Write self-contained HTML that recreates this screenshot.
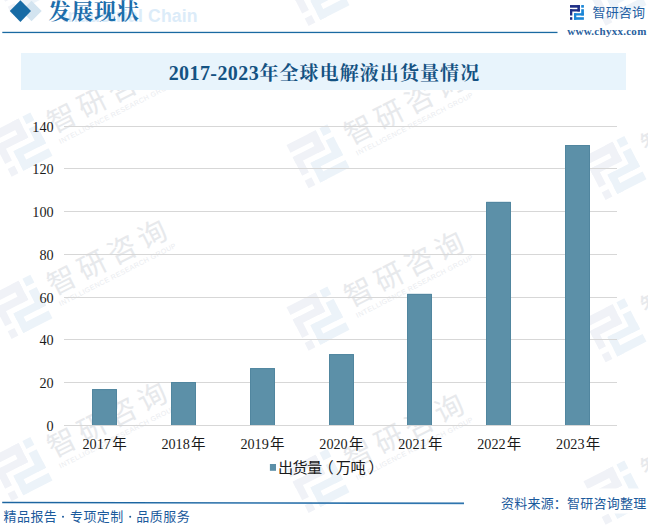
<!DOCTYPE html>
<html lang="zh-CN">
<head>
<meta charset="utf-8">
<title>2017-2023年全球电解液出货量情况</title>
<style>
html,body{margin:0;padding:0;background:#fff;font-family:"Liberation Sans",sans-serif;}
body{width:648px;height:525px;overflow:hidden;position:relative;}
svg{display:block;position:absolute;left:0;top:0;}
.sr{position:absolute;left:0;top:0;width:648px;height:525px;overflow:hidden;opacity:0;color:transparent;pointer-events:none;}
.sr *{position:absolute;margin:0;white-space:nowrap;font:14px/1 "Liberation Sans",sans-serif;}
.wmc{font-family:"Liberation Sans","Noto Sans CJK SC",sans-serif;font-size:28.6px;fill:#e7e9ec;}
.wml{font-family:"Liberation Sans",sans-serif;font-size:7px;fill:#eaecef;}
.ax{font-family:"Liberation Serif","Noto Sans CJK SC",serif;font-size:14.2px;fill:#1a1a1a;}
.cj{font-family:"Liberation Sans","Noto Sans CJK SC",sans-serif;}
</style>
</head>
<body>
<svg width="648" height="525" viewBox="0 0 648 525" role="img" aria-label="发展现状 2017-2023年全球电解液出货量情况 出货量（万吨） 资料来源：智研咨询整理 精品报告·专项定制·品质服务 www.chyxx.com">
<rect width="648" height="525" fill="#ffffff"/>
<g transform="translate(-10.5 -29.0) rotate(-27)"><g transform="scale(3.3)"><rect x="0.00" y="0.00" width="9.90" height="2.65" fill="#f0f2f7"/><rect x="7.40" y="0.00" width="2.50" height="6.45" fill="#f0f2f7"/><rect x="0.00" y="4.15" width="9.90" height="2.30" fill="#f0f2f7"/><rect x="0.00" y="4.15" width="2.30" height="6.30" fill="#f0f2f7"/><rect x="0.00" y="12.15" width="2.30" height="2.60" fill="#f0f2f7"/><rect x="11.20" y="0.00" width="2.70" height="2.65" fill="#ecf3f9"/><rect x="11.20" y="4.15" width="2.70" height="6.30" fill="#ecf3f9"/><rect x="4.00" y="8.15" width="9.90" height="2.30" fill="#ecf3f9"/><rect x="4.00" y="8.15" width="2.30" height="6.60" fill="#ecf3f9"/><rect x="4.00" y="12.15" width="9.90" height="2.60" fill="#ecf3f9"/></g><text class="wmc" x="57.15 90.85 124.55 158.25" y="29.6">智研咨询</text><text class="wml" x="58.5" y="41.8" textLength="130" lengthAdjust="spacing">INTELLIGENCE RESEARCH GROUP</text></g>
<g transform="translate(-10.5 133.3) rotate(-27)"><g transform="scale(3.3)"><rect x="0.00" y="0.00" width="9.90" height="2.65" fill="#f0f2f7"/><rect x="7.40" y="0.00" width="2.50" height="6.45" fill="#f0f2f7"/><rect x="0.00" y="4.15" width="9.90" height="2.30" fill="#f0f2f7"/><rect x="0.00" y="4.15" width="2.30" height="6.30" fill="#f0f2f7"/><rect x="0.00" y="12.15" width="2.30" height="2.60" fill="#f0f2f7"/><rect x="11.20" y="0.00" width="2.70" height="2.65" fill="#ecf3f9"/><rect x="11.20" y="4.15" width="2.70" height="6.30" fill="#ecf3f9"/><rect x="4.00" y="8.15" width="9.90" height="2.30" fill="#ecf3f9"/><rect x="4.00" y="8.15" width="2.30" height="6.60" fill="#ecf3f9"/><rect x="4.00" y="12.15" width="9.90" height="2.60" fill="#ecf3f9"/></g><text class="wmc" x="57.15 90.85 124.55 158.25" y="29.6">智研咨询</text><text class="wml" x="58.5" y="41.8" textLength="130" lengthAdjust="spacing">INTELLIGENCE RESEARCH GROUP</text></g>
<g transform="translate(-10.5 295.6) rotate(-27)"><g transform="scale(3.3)"><rect x="0.00" y="0.00" width="9.90" height="2.65" fill="#f0f2f7"/><rect x="7.40" y="0.00" width="2.50" height="6.45" fill="#f0f2f7"/><rect x="0.00" y="4.15" width="9.90" height="2.30" fill="#f0f2f7"/><rect x="0.00" y="4.15" width="2.30" height="6.30" fill="#f0f2f7"/><rect x="0.00" y="12.15" width="2.30" height="2.60" fill="#f0f2f7"/><rect x="11.20" y="0.00" width="2.70" height="2.65" fill="#ecf3f9"/><rect x="11.20" y="4.15" width="2.70" height="6.30" fill="#ecf3f9"/><rect x="4.00" y="8.15" width="9.90" height="2.30" fill="#ecf3f9"/><rect x="4.00" y="8.15" width="2.30" height="6.60" fill="#ecf3f9"/><rect x="4.00" y="12.15" width="9.90" height="2.60" fill="#ecf3f9"/></g><text class="wmc" x="57.15 90.85 124.55 158.25" y="29.6">智研咨询</text><text class="wml" x="58.5" y="41.8" textLength="130" lengthAdjust="spacing">INTELLIGENCE RESEARCH GROUP</text></g>
<g transform="translate(-10.5 457.9) rotate(-27)"><g transform="scale(3.3)"><rect x="0.00" y="0.00" width="9.90" height="2.65" fill="#f0f2f7"/><rect x="7.40" y="0.00" width="2.50" height="6.45" fill="#f0f2f7"/><rect x="0.00" y="4.15" width="9.90" height="2.30" fill="#f0f2f7"/><rect x="0.00" y="4.15" width="2.30" height="6.30" fill="#f0f2f7"/><rect x="0.00" y="12.15" width="2.30" height="2.60" fill="#f0f2f7"/><rect x="11.20" y="0.00" width="2.70" height="2.65" fill="#ecf3f9"/><rect x="11.20" y="4.15" width="2.70" height="6.30" fill="#ecf3f9"/><rect x="4.00" y="8.15" width="9.90" height="2.30" fill="#ecf3f9"/><rect x="4.00" y="8.15" width="2.30" height="6.60" fill="#ecf3f9"/><rect x="4.00" y="12.15" width="9.90" height="2.60" fill="#ecf3f9"/></g><text class="wmc" x="57.15 90.85 124.55 158.25" y="29.6">智研咨询</text><text class="wml" x="58.5" y="41.8" textLength="130" lengthAdjust="spacing">INTELLIGENCE RESEARCH GROUP</text></g>
<g transform="translate(-10.5 620.2) rotate(-27)"><g transform="scale(3.3)"><rect x="0.00" y="0.00" width="9.90" height="2.65" fill="#f0f2f7"/><rect x="7.40" y="0.00" width="2.50" height="6.45" fill="#f0f2f7"/><rect x="0.00" y="4.15" width="9.90" height="2.30" fill="#f0f2f7"/><rect x="0.00" y="4.15" width="2.30" height="6.30" fill="#f0f2f7"/><rect x="0.00" y="12.15" width="2.30" height="2.60" fill="#f0f2f7"/><rect x="11.20" y="0.00" width="2.70" height="2.65" fill="#ecf3f9"/><rect x="11.20" y="4.15" width="2.70" height="6.30" fill="#ecf3f9"/><rect x="4.00" y="8.15" width="9.90" height="2.30" fill="#ecf3f9"/><rect x="4.00" y="8.15" width="2.30" height="6.60" fill="#ecf3f9"/><rect x="4.00" y="12.15" width="9.90" height="2.60" fill="#ecf3f9"/></g><text class="wmc" x="57.15 90.85 124.55 158.25" y="29.6">智研咨询</text><text class="wml" x="58.5" y="41.8" textLength="130" lengthAdjust="spacing">INTELLIGENCE RESEARCH GROUP</text></g>
<g transform="translate(286.5 -17.3) rotate(-27)"><g transform="scale(3.3)"><rect x="0.00" y="0.00" width="9.90" height="2.65" fill="#f0f2f7"/><rect x="7.40" y="0.00" width="2.50" height="6.45" fill="#f0f2f7"/><rect x="0.00" y="4.15" width="9.90" height="2.30" fill="#f0f2f7"/><rect x="0.00" y="4.15" width="2.30" height="6.30" fill="#f0f2f7"/><rect x="0.00" y="12.15" width="2.30" height="2.60" fill="#f0f2f7"/><rect x="11.20" y="0.00" width="2.70" height="2.65" fill="#ecf3f9"/><rect x="11.20" y="4.15" width="2.70" height="6.30" fill="#ecf3f9"/><rect x="4.00" y="8.15" width="9.90" height="2.30" fill="#ecf3f9"/><rect x="4.00" y="8.15" width="2.30" height="6.60" fill="#ecf3f9"/><rect x="4.00" y="12.15" width="9.90" height="2.60" fill="#ecf3f9"/></g><text class="wmc" x="57.15 90.85 124.55 158.25" y="29.6">智研咨询</text><text class="wml" x="58.5" y="41.8" textLength="130" lengthAdjust="spacing">INTELLIGENCE RESEARCH GROUP</text></g>
<g transform="translate(286.5 145.0) rotate(-27)"><g transform="scale(3.3)"><rect x="0.00" y="0.00" width="9.90" height="2.65" fill="#f0f2f7"/><rect x="7.40" y="0.00" width="2.50" height="6.45" fill="#f0f2f7"/><rect x="0.00" y="4.15" width="9.90" height="2.30" fill="#f0f2f7"/><rect x="0.00" y="4.15" width="2.30" height="6.30" fill="#f0f2f7"/><rect x="0.00" y="12.15" width="2.30" height="2.60" fill="#f0f2f7"/><rect x="11.20" y="0.00" width="2.70" height="2.65" fill="#ecf3f9"/><rect x="11.20" y="4.15" width="2.70" height="6.30" fill="#ecf3f9"/><rect x="4.00" y="8.15" width="9.90" height="2.30" fill="#ecf3f9"/><rect x="4.00" y="8.15" width="2.30" height="6.60" fill="#ecf3f9"/><rect x="4.00" y="12.15" width="9.90" height="2.60" fill="#ecf3f9"/></g><text class="wmc" x="57.15 90.85 124.55 158.25" y="29.6">智研咨询</text><text class="wml" x="58.5" y="41.8" textLength="130" lengthAdjust="spacing">INTELLIGENCE RESEARCH GROUP</text></g>
<g transform="translate(286.5 307.3) rotate(-27)"><g transform="scale(3.3)"><rect x="0.00" y="0.00" width="9.90" height="2.65" fill="#f0f2f7"/><rect x="7.40" y="0.00" width="2.50" height="6.45" fill="#f0f2f7"/><rect x="0.00" y="4.15" width="9.90" height="2.30" fill="#f0f2f7"/><rect x="0.00" y="4.15" width="2.30" height="6.30" fill="#f0f2f7"/><rect x="0.00" y="12.15" width="2.30" height="2.60" fill="#f0f2f7"/><rect x="11.20" y="0.00" width="2.70" height="2.65" fill="#ecf3f9"/><rect x="11.20" y="4.15" width="2.70" height="6.30" fill="#ecf3f9"/><rect x="4.00" y="8.15" width="9.90" height="2.30" fill="#ecf3f9"/><rect x="4.00" y="8.15" width="2.30" height="6.60" fill="#ecf3f9"/><rect x="4.00" y="12.15" width="9.90" height="2.60" fill="#ecf3f9"/></g><text class="wmc" x="57.15 90.85 124.55 158.25" y="29.6">智研咨询</text><text class="wml" x="58.5" y="41.8" textLength="130" lengthAdjust="spacing">INTELLIGENCE RESEARCH GROUP</text></g>
<g transform="translate(286.5 469.6) rotate(-27)"><g transform="scale(3.3)"><rect x="0.00" y="0.00" width="9.90" height="2.65" fill="#f0f2f7"/><rect x="7.40" y="0.00" width="2.50" height="6.45" fill="#f0f2f7"/><rect x="0.00" y="4.15" width="9.90" height="2.30" fill="#f0f2f7"/><rect x="0.00" y="4.15" width="2.30" height="6.30" fill="#f0f2f7"/><rect x="0.00" y="12.15" width="2.30" height="2.60" fill="#f0f2f7"/><rect x="11.20" y="0.00" width="2.70" height="2.65" fill="#ecf3f9"/><rect x="11.20" y="4.15" width="2.70" height="6.30" fill="#ecf3f9"/><rect x="4.00" y="8.15" width="9.90" height="2.30" fill="#ecf3f9"/><rect x="4.00" y="8.15" width="2.30" height="6.60" fill="#ecf3f9"/><rect x="4.00" y="12.15" width="9.90" height="2.60" fill="#ecf3f9"/></g><text class="wmc" x="57.15 90.85 124.55 158.25" y="29.6">智研咨询</text><text class="wml" x="58.5" y="41.8" textLength="130" lengthAdjust="spacing">INTELLIGENCE RESEARCH GROUP</text></g>
<g transform="translate(286.5 631.9) rotate(-27)"><g transform="scale(3.3)"><rect x="0.00" y="0.00" width="9.90" height="2.65" fill="#f0f2f7"/><rect x="7.40" y="0.00" width="2.50" height="6.45" fill="#f0f2f7"/><rect x="0.00" y="4.15" width="9.90" height="2.30" fill="#f0f2f7"/><rect x="0.00" y="4.15" width="2.30" height="6.30" fill="#f0f2f7"/><rect x="0.00" y="12.15" width="2.30" height="2.60" fill="#f0f2f7"/><rect x="11.20" y="0.00" width="2.70" height="2.65" fill="#ecf3f9"/><rect x="11.20" y="4.15" width="2.70" height="6.30" fill="#ecf3f9"/><rect x="4.00" y="8.15" width="9.90" height="2.30" fill="#ecf3f9"/><rect x="4.00" y="8.15" width="2.30" height="6.60" fill="#ecf3f9"/><rect x="4.00" y="12.15" width="9.90" height="2.60" fill="#ecf3f9"/></g><text class="wmc" x="57.15 90.85 124.55 158.25" y="29.6">智研咨询</text><text class="wml" x="58.5" y="41.8" textLength="130" lengthAdjust="spacing">INTELLIGENCE RESEARCH GROUP</text></g>
<g transform="translate(583.5 -17.6) rotate(-27)"><g transform="scale(3.3)"><rect x="0.00" y="0.00" width="9.90" height="2.65" fill="#f0f2f7"/><rect x="7.40" y="0.00" width="2.50" height="6.45" fill="#f0f2f7"/><rect x="0.00" y="4.15" width="9.90" height="2.30" fill="#f0f2f7"/><rect x="0.00" y="4.15" width="2.30" height="6.30" fill="#f0f2f7"/><rect x="0.00" y="12.15" width="2.30" height="2.60" fill="#f0f2f7"/><rect x="11.20" y="0.00" width="2.70" height="2.65" fill="#ecf3f9"/><rect x="11.20" y="4.15" width="2.70" height="6.30" fill="#ecf3f9"/><rect x="4.00" y="8.15" width="9.90" height="2.30" fill="#ecf3f9"/><rect x="4.00" y="8.15" width="2.30" height="6.60" fill="#ecf3f9"/><rect x="4.00" y="12.15" width="9.90" height="2.60" fill="#ecf3f9"/></g><text class="wmc" x="57.15 90.85 124.55 158.25" y="29.6">智研咨询</text><text class="wml" x="58.5" y="41.8" textLength="130" lengthAdjust="spacing">INTELLIGENCE RESEARCH GROUP</text></g>
<g transform="translate(583.5 156.7) rotate(-27)"><g transform="scale(3.3)"><rect x="0.00" y="0.00" width="9.90" height="2.65" fill="#f0f2f7"/><rect x="7.40" y="0.00" width="2.50" height="6.45" fill="#f0f2f7"/><rect x="0.00" y="4.15" width="9.90" height="2.30" fill="#f0f2f7"/><rect x="0.00" y="4.15" width="2.30" height="6.30" fill="#f0f2f7"/><rect x="0.00" y="12.15" width="2.30" height="2.60" fill="#f0f2f7"/><rect x="11.20" y="0.00" width="2.70" height="2.65" fill="#ecf3f9"/><rect x="11.20" y="4.15" width="2.70" height="6.30" fill="#ecf3f9"/><rect x="4.00" y="8.15" width="9.90" height="2.30" fill="#ecf3f9"/><rect x="4.00" y="8.15" width="2.30" height="6.60" fill="#ecf3f9"/><rect x="4.00" y="12.15" width="9.90" height="2.60" fill="#ecf3f9"/></g><text class="wmc" x="57.15 90.85 124.55 158.25" y="29.6">智研咨询</text><text class="wml" x="58.5" y="41.8" textLength="130" lengthAdjust="spacing">INTELLIGENCE RESEARCH GROUP</text></g>
<g transform="translate(583.5 319.0) rotate(-27)"><g transform="scale(3.3)"><rect x="0.00" y="0.00" width="9.90" height="2.65" fill="#f0f2f7"/><rect x="7.40" y="0.00" width="2.50" height="6.45" fill="#f0f2f7"/><rect x="0.00" y="4.15" width="9.90" height="2.30" fill="#f0f2f7"/><rect x="0.00" y="4.15" width="2.30" height="6.30" fill="#f0f2f7"/><rect x="0.00" y="12.15" width="2.30" height="2.60" fill="#f0f2f7"/><rect x="11.20" y="0.00" width="2.70" height="2.65" fill="#ecf3f9"/><rect x="11.20" y="4.15" width="2.70" height="6.30" fill="#ecf3f9"/><rect x="4.00" y="8.15" width="9.90" height="2.30" fill="#ecf3f9"/><rect x="4.00" y="8.15" width="2.30" height="6.60" fill="#ecf3f9"/><rect x="4.00" y="12.15" width="9.90" height="2.60" fill="#ecf3f9"/></g><text class="wmc" x="57.15 90.85 124.55 158.25" y="29.6">智研咨询</text><text class="wml" x="58.5" y="41.8" textLength="130" lengthAdjust="spacing">INTELLIGENCE RESEARCH GROUP</text></g>
<g transform="translate(583.5 481.3) rotate(-27)"><g transform="scale(3.3)"><rect x="0.00" y="0.00" width="9.90" height="2.65" fill="#f0f2f7"/><rect x="7.40" y="0.00" width="2.50" height="6.45" fill="#f0f2f7"/><rect x="0.00" y="4.15" width="9.90" height="2.30" fill="#f0f2f7"/><rect x="0.00" y="4.15" width="2.30" height="6.30" fill="#f0f2f7"/><rect x="0.00" y="12.15" width="2.30" height="2.60" fill="#f0f2f7"/><rect x="11.20" y="0.00" width="2.70" height="2.65" fill="#ecf3f9"/><rect x="11.20" y="4.15" width="2.70" height="6.30" fill="#ecf3f9"/><rect x="4.00" y="8.15" width="9.90" height="2.30" fill="#ecf3f9"/><rect x="4.00" y="8.15" width="2.30" height="6.60" fill="#ecf3f9"/><rect x="4.00" y="12.15" width="9.90" height="2.60" fill="#ecf3f9"/></g><text class="wmc" x="57.15 90.85 124.55 158.25" y="29.6">智研咨询</text><text class="wml" x="58.5" y="41.8" textLength="130" lengthAdjust="spacing">INTELLIGENCE RESEARCH GROUP</text></g>
<g transform="translate(583.5 643.6) rotate(-27)"><g transform="scale(3.3)"><rect x="0.00" y="0.00" width="9.90" height="2.65" fill="#f0f2f7"/><rect x="7.40" y="0.00" width="2.50" height="6.45" fill="#f0f2f7"/><rect x="0.00" y="4.15" width="9.90" height="2.30" fill="#f0f2f7"/><rect x="0.00" y="4.15" width="2.30" height="6.30" fill="#f0f2f7"/><rect x="0.00" y="12.15" width="2.30" height="2.60" fill="#f0f2f7"/><rect x="11.20" y="0.00" width="2.70" height="2.65" fill="#ecf3f9"/><rect x="11.20" y="4.15" width="2.70" height="6.30" fill="#ecf3f9"/><rect x="4.00" y="8.15" width="9.90" height="2.30" fill="#ecf3f9"/><rect x="4.00" y="8.15" width="2.30" height="6.60" fill="#ecf3f9"/><rect x="4.00" y="12.15" width="9.90" height="2.60" fill="#ecf3f9"/></g><text class="wmc" x="57.15 90.85 124.55 158.25" y="29.6">智研咨询</text><text class="wml" x="58.5" y="41.8" textLength="130" lengthAdjust="spacing">INTELLIGENCE RESEARCH GROUP</text></g>
<rect x="470" y="488.5" width="178" height="25" fill="#ffffff"/>
<polygon points="31.5,0.8 41.7,11 31.5,21.2 21.3,11" fill="#d3e4f0"/>
<polygon points="20.4,0.3 31,11 20.4,21.9 9.8,11" fill="#176ba5"/>
<text x="62.5" y="21.8" font-family="&quot;Liberation Sans&quot;,sans-serif" font-size="17.6" font-weight="bold" fill="#dcecf9" textLength="135" lengthAdjust="spacing">Industrial Chain</text>
<text x="48.4 71.2 94.1 116.9" y="19.35" font-family="&quot;Liberation Serif&quot;,&quot;Noto Serif CJK SC&quot;,serif" font-size="22" font-weight="bold" fill="#1d6eab">发展现状</text>
<rect x="2.3" y="31.8" width="555.2" height="1.3" fill="#1a6aa2"/>
<g transform="translate(570 5.05)"><rect x="0.00" y="0.00" width="9.90" height="2.65" fill="#1f2f86"/><rect x="7.40" y="0.00" width="2.50" height="6.45" fill="#1f2f86"/><rect x="0.00" y="4.15" width="9.90" height="2.30" fill="#1f2f86"/><rect x="0.00" y="4.15" width="2.30" height="6.30" fill="#1f2f86"/><rect x="0.00" y="12.15" width="2.30" height="2.60" fill="#1f2f86"/><rect x="11.20" y="0.00" width="2.70" height="2.65" fill="#1b86d6"/><rect x="11.20" y="4.15" width="2.70" height="6.30" fill="#1b86d6"/><rect x="4.00" y="8.15" width="9.90" height="2.30" fill="#1b86d6"/><rect x="4.00" y="8.15" width="2.30" height="6.60" fill="#1b86d6"/><rect x="4.00" y="12.15" width="9.90" height="2.60" fill="#1b86d6"/></g>
<text class="cj" x="592.6 605.7 618.8 631.9" y="17.15" font-size="13" fill="#1f5fa3">智研咨询</text>
<text x="567.3" y="34.6" font-family="&quot;Liberation Serif&quot;,serif" font-size="11" font-weight="bold" fill="#2a5f9e" textLength="79" lengthAdjust="spacing">www.chyxx.com</text>
<rect x="21" y="53" width="605" height="37" fill="#e8f4fc"/>
<text x="168.7" y="79.8" font-family="&quot;Liberation Serif&quot;,&quot;Noto Serif CJK SC&quot;,serif" font-size="20" font-weight="bold" fill="#145282" textLength="90" lengthAdjust="spacing">2017-2023</text>
<text x="259.4" y="79.55" font-family="&quot;Liberation Serif&quot;,&quot;Noto Serif CJK SC&quot;,serif" font-size="19" font-weight="bold" fill="#145282" textLength="219.8" lengthAdjust="spacing">年全球电解液出货量情况</text>
<rect x="64" y="425" width="553" height="1" fill="#d7d7d7"/>
<text class="ax" x="53.6" y="430.8" text-anchor="end">0</text>
<rect x="64" y="382" width="553" height="1" fill="#d7d7d7"/>
<text class="ax" x="53.6" y="387.8" text-anchor="end">20</text>
<rect x="64" y="339" width="553" height="1" fill="#d7d7d7"/>
<text class="ax" x="53.6" y="344.8" text-anchor="end">40</text>
<rect x="64" y="297" width="553" height="1" fill="#d7d7d7"/>
<text class="ax" x="53.6" y="302.8" text-anchor="end">60</text>
<rect x="64" y="254" width="553" height="1" fill="#d7d7d7"/>
<text class="ax" x="53.6" y="259.8" text-anchor="end">80</text>
<rect x="64" y="211" width="553" height="1" fill="#d7d7d7"/>
<text class="ax" x="53.6" y="216.8" text-anchor="end">100</text>
<rect x="64" y="168" width="553" height="1" fill="#d7d7d7"/>
<text class="ax" x="53.6" y="173.8" text-anchor="end">120</text>
<rect x="64" y="126" width="553" height="1" fill="#d7d7d7"/>
<text class="ax" x="53.6" y="131.8" text-anchor="end">140</text>
<rect x="92.00" y="389.10" width="25" height="35.90" fill="#5c90a8"/>
<path d="M92.50 425V389.60H116.50V425" fill="none" stroke="#51869f" stroke-width="1"/>
<text class="ax" x="82.5" y="448.6">2017<tspan x="112.15" font-size="14.5">年</tspan></text>
<rect x="171.00" y="382.00" width="25" height="43.00" fill="#5c90a8"/>
<path d="M171.50 425V382.50H195.50V425" fill="none" stroke="#51869f" stroke-width="1"/>
<text class="ax" x="161.4" y="448.6">2018<tspan x="191.09" font-size="14.5">年</tspan></text>
<rect x="250.00" y="368.10" width="25" height="56.90" fill="#5c90a8"/>
<path d="M250.50 425V368.60H274.50V425" fill="none" stroke="#51869f" stroke-width="1"/>
<text class="ax" x="240.4" y="448.6">2019<tspan x="270.03" font-size="14.5">年</tspan></text>
<rect x="329.00" y="354.10" width="25" height="70.90" fill="#5c90a8"/>
<path d="M329.50 425V354.60H353.50V425" fill="none" stroke="#51869f" stroke-width="1"/>
<text class="ax" x="319.3" y="448.6">2020<tspan x="348.97" font-size="14.5">年</tspan></text>
<rect x="407.00" y="293.90" width="25" height="131.10" fill="#5c90a8"/>
<path d="M407.50 425V294.40H431.50V425" fill="none" stroke="#51869f" stroke-width="1"/>
<text class="ax" x="398.2" y="448.6">2021<tspan x="427.91" font-size="14.5">年</tspan></text>
<rect x="486.00" y="201.90" width="25" height="223.10" fill="#5c90a8"/>
<path d="M486.50 425V202.40H510.50V425" fill="none" stroke="#51869f" stroke-width="1"/>
<text class="ax" x="477.2" y="448.6">2022<tspan x="506.85" font-size="14.5">年</tspan></text>
<rect x="565.00" y="145.00" width="25" height="280.00" fill="#5c90a8"/>
<path d="M565.50 425V145.50H589.50V425" fill="none" stroke="#51869f" stroke-width="1"/>
<text class="ax" x="556.1" y="448.6">2023<tspan x="585.79" font-size="14.5">年</tspan></text>
<rect x="269.9" y="464.0" width="6.1" height="6.8" fill="#5b8fa8"/>
<text class="cj" x="278.1 292.5 306.9 318.4 335.8 350.6 368.5" y="472.9" font-size="15.2" fill="#1a1a1a">出货量（万吨）</text>
<defs><linearGradient id="fl" x1="0" y1="0" x2="0" y2="1"><stop offset="0" stop-color="#17609b"/><stop offset="0.6" stop-color="#226ba6"/><stop offset="1" stop-color="#4a8dc4"/></linearGradient></defs>
<polygon points="2.2,501.7 464,502.6 464,504.2 2.2,503.3" fill="url(#fl)"/>
<text class="cj" x="3.6 17 30.4 43.8" y="521.4" font-size="13" fill="#1b5a9c">精品报告</text>
<circle cx="63.0" cy="516.7" r="1.0" fill="#1b5a9c"/>
<text class="cj" x="70 83.4 96.8 110.2" y="521.4" font-size="13" fill="#1b5a9c">专项定制</text>
<circle cx="130.2" cy="516.7" r="1.0" fill="#1b5a9c"/>
<text class="cj" x="136.25 149.75 163.25 176.75" y="521.4" font-size="13" fill="#1b5a9c">品质服务</text>
<text class="cj" x="501" y="507.6" font-size="13" fill="#1b5a9c" textLength="145.2" lengthAdjust="spacing">资料来源：智研咨询整理</text>
</svg>
<div class="sr">
<h1 style="left:48px;top:0px;font-size:22px">发展现状</h1>
<span style="left:66px;top:6px;font-size:17px">Industrial Chain</span>
<span style="left:592px;top:5px;font-size:13px">智研咨询</span>
<span style="left:567px;top:26px;font-size:11px">www.chyxx.com</span>
<h2 style="left:169px;top:62px;font-size:19px">2017-2023年全球电解液出货量情况</h2>
<span style="left:32px;top:119px">140</span><span style="left:32px;top:161px">120</span><span style="left:32px;top:204px">100</span><span style="left:39px;top:247px">80</span><span style="left:39px;top:290px">60</span><span style="left:39px;top:332px">40</span><span style="left:39px;top:375px">20</span><span style="left:46px;top:418px">0</span>
<span style="left:82px;top:436px">2017年</span><span style="left:161px;top:436px">2018年</span><span style="left:240px;top:436px">2019年</span><span style="left:319px;top:436px">2020年</span><span style="left:398px;top:436px">2021年</span><span style="left:477px;top:436px">2022年</span><span style="left:556px;top:436px">2023年</span>
<span style="left:279px;top:460px">出货量（万吨）</span>
<span style="left:3px;top:509px;font-size:13px">精品报告 · 专项定制 · 品质服务</span>
<span style="left:501px;top:495px;font-size:13px">资料来源：智研咨询整理</span>
</div>
</body>
</html>
